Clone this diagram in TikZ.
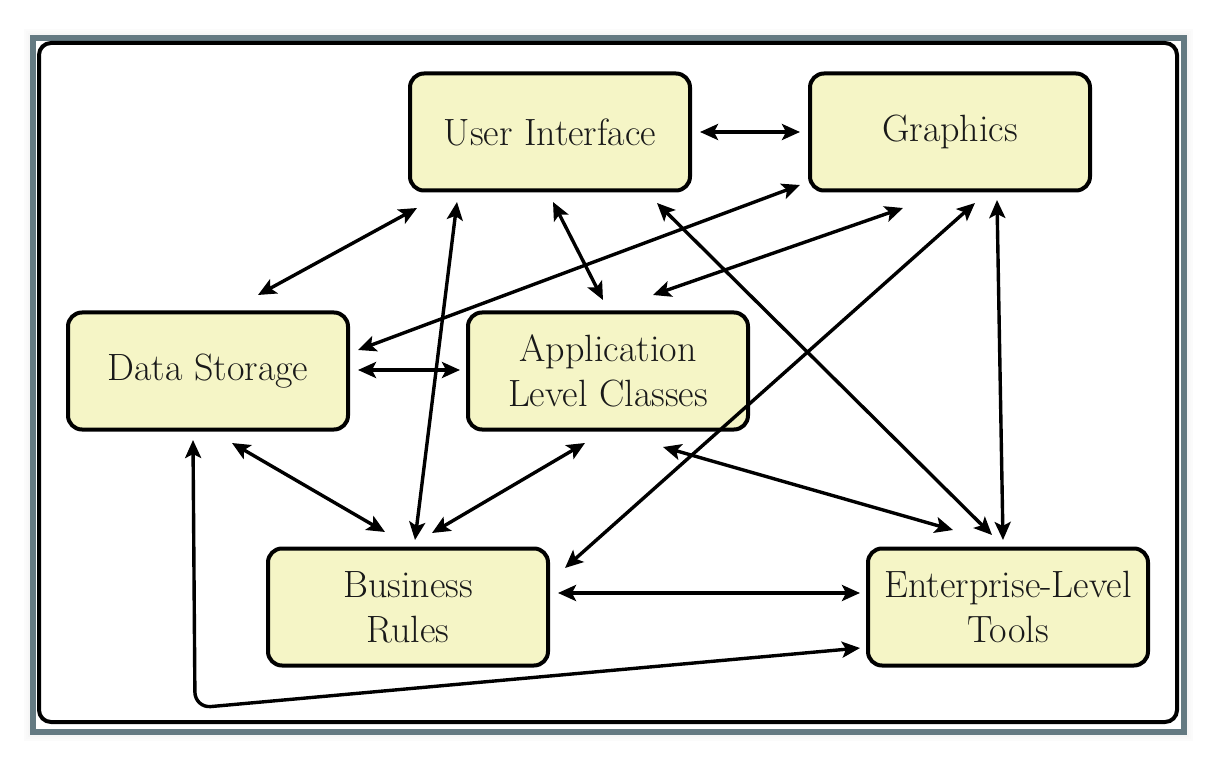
\documentclass[tikz,border=0pt]{standalone}
\usetikzlibrary{arrows.meta}
\definecolor{boxfill}{RGB}{245,245,198}
\definecolor{framegray}{RGB}{100,122,130}
\definecolor{txt}{RGB}{25,25,25}
\tikzset{
  block/.style={draw=black, line width=4pt, fill=boxfill, rounded corners=14pt,
    minimum width=280pt, minimum height=117pt, align=center, text=txt,
    font=\fontsize{38}{45}\selectfont},
  link/.style={line width=3.4pt, {Stealth[length=18pt,width=16pt,inset=4pt]}-{Stealth[length=18pt,width=16pt,inset=4pt]}},
}
\begin{document}
\begin{tikzpicture}[x=1pt,y=-1pt]
\useasboundingbox (0,0) rectangle (1210,759);
% soft shadow
\foreach \i/\o in {8/0.015,6/0.025,4/0.035,2/0.045}{
  \draw[line width=2pt, black, opacity=\o] (33-\i,38-\i) rectangle (1184+\i,732+\i);
}
\draw[framegray, line width=6pt, fill=white] (33,38) rectangle (1184,732);
\draw[black, line width=4pt, rounded corners=12pt] (39,43) rectangle (1177,722);

\node[block] (ui)  at (550,132) {User Interface};
\node[block] (gr)  at (950,132) {Graphics};
\node[block] (ds)  at (208,371) {Data Storage};
\node[block] (alc) at (608,371) {Application\\Level Classes};
\node[block] (br)  at (408,607) {Business\\Rules};
\node[block] (et)  at (1008,607) {Enterprise-Level\\Tools};

\draw[link] ([shift={(150,0)}]ui.center) -- ([shift={(-150,0)}]gr.center);
\draw[link] ([shift={(50,-76)}]ds.center) -- ([shift={(-133,76)}]ui.center);
\draw[link] ([shift={(-93,70)}]ui.center) -- ([shift={(7,-67)}]br.center);
\draw[link] ([shift={(3,70)}]ui.center) -- ([shift={(-5,-71)}]alc.center);
\draw[link] ([shift={(107,71)}]ui.center) -- ([shift={(-16,-72)}]et.center);
\draw[link] ([shift={(-150,53)}]gr.center) -- ([shift={(150,-21)}]ds.center);
\draw[link] ([shift={(-47,76)}]gr.center) -- ([shift={(45,-76)}]alc.center);
\draw[link] ([shift={(25,71)}]gr.center) -- ([shift={(157,-39)}]br.center);
\draw[link] ([shift={(47,68)}]gr.center) -- ([shift={(-5,-67)}]et.center);
\draw[link] ([shift={(150,-1)}]ds.center) -- ([shift={(-148,-1)}]alc.center);
\draw[link] ([shift={(24,72)}]ds.center) -- ([shift={(-23,-75)}]br.center);
\draw[link] ([shift={(-23,72)}]alc.center) -- ([shift={(24,-74)}]br.center);
\draw[link] ([shift={(55,76)}]alc.center) -- ([shift={(-55,-77)}]et.center);
\draw[link] ([shift={(150,-14)}]br.center) -- ([shift={(-148,-14)}]et.center);
\coordinate (bend) at (195,708);
\draw[link, rounded corners=16pt] ([shift={(-15,69)}]ds.center) -- (bend) -- ([shift={(-148,41)}]et.center);
\end{tikzpicture}
\end{document}
